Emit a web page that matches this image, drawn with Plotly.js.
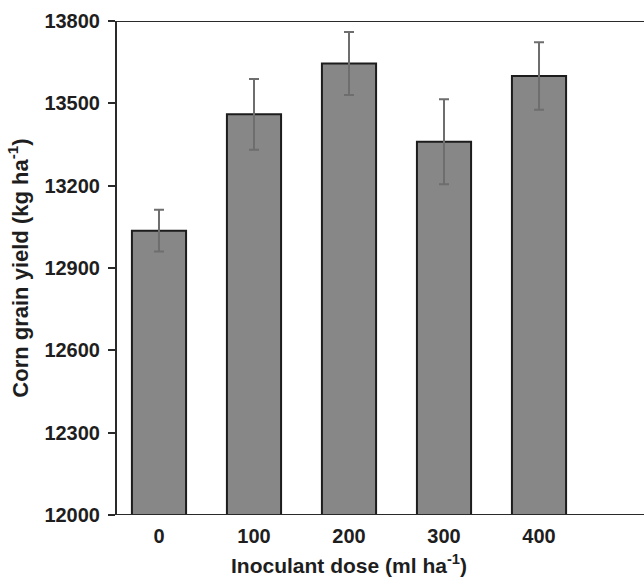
<!DOCTYPE html>
<html>
<head>
<meta charset="utf-8">
<script src="https://cdn.plot.ly/plotly-3.0.1.min.js"></script>
<style>html,body{margin:0;padding:0;background:#fff;}</style>
</head>
<body>
<div id="chart" style="width:644px;height:584px;"></div>
<script>
const doses = ['0', '100', '200', '300', '400'];
const yieldMeans = [13036, 13460, 13645, 13360, 13600];
const yieldErrors = [76, 129, 115, 155, 123];
const yTicks = [12000, 12300, 12600, 12900, 13200, 13500, 13800];

const trace = {
  type: 'bar',
  x: doses,
  y: yieldMeans,
  width: 0.57,
  marker: {color: '#878787', line: {color: '#1c1c1c', width: 2}},
  error_y: {type: 'data', array: yieldErrors, visible: true, color: '#6e6e6e', thickness: 2, width: 5}
};

const fam = 'Liberation Sans, Arial, sans-serif';
const tickFont = {family: fam, size: 20, color: '#1e1e1e', weight: 'bold'};
const ext = (644 - 117) / (581 - 117);

const layout = {
  width: 644, height: 584,
  margin: {l: 117, r: 63, t: 21, b: 69},
  paper_bgcolor: '#ffffff', plot_bgcolor: '#ffffff',
  showlegend: false,
  xaxis: {
    type: 'category',
    range: [-0.442, 4.442],
    showline: false,
    ticks: '', showgrid: false, zeroline: false,
    tickfont: tickFont,
    ticklabelstandoff: 7,
    title: {text: 'Inoculant dose (ml ha<sup>-1</sup>)', font: {family: fam, size: 21, color: '#1e1e1e', weight: 'bold'}, standoff: 12}
  },
  yaxis: {
    range: [12000, 13800],
    tickvals: yTicks,
    ticktext: yTicks.map(String),
    showline: true, linecolor: '#2a2a2a', linewidth: 2,
    ticks: 'outside', ticklen: 7, tickwidth: 2, tickcolor: '#2a2a2a',
    showgrid: false, zeroline: false,
    tickfont: tickFont,
    ticklabelstandoff: 4,
    title: {text: 'Corn grain yield (kg ha<sup>-1</sup>)', font: {family: fam, size: 22, color: '#1e1e1e', weight: 'bold'}, standoff: 10}
  },
  shapes: [
    {type: 'line', xref: 'paper', yref: 'y', x0: 0, x1: ext, y0: 13800, y1: 13800, line: {color: '#2a2a2a', width: 2}},
    {type: 'line', xref: 'paper', yref: 'y', x0: 0, x1: ext, y0: 12000, y1: 12000, line: {color: '#2a2a2a', width: 2}}
  ]
};

Plotly.newPlot('chart', [trace], layout, {displayModeBar: false, staticPlot: true});
</script>
</body>
</html>
